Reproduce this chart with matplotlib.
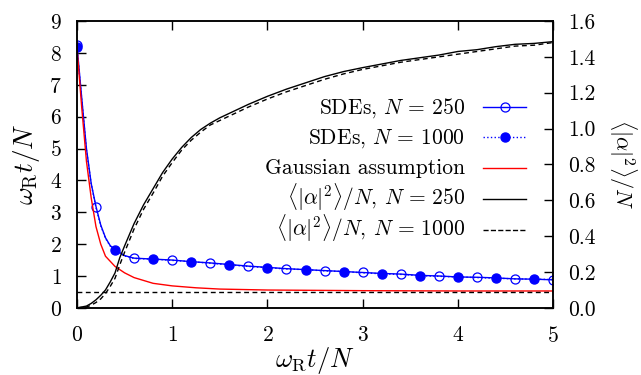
import matplotlib
matplotlib.use("Agg")
import matplotlib.pyplot as plt
from matplotlib.lines import Line2D

plt.rcParams["font.family"] = "serif"
plt.rcParams["font.serif"] = ["cmr10", "DejaVu Serif"]
plt.rcParams["mathtext.fontset"] = "cm"
plt.rcParams["axes.formatter.use_mathtext"] = True
plt.rcParams["font.size"] = 15.5

# SDE results (left axis)
t_sde = [0, 0.05, 0.1, 0.15, 0.2, 0.25, 0.3, 0.35, 0.4, 0.5, 0.6, 0.8, 1.0, 1.2, 1.4,
         1.6, 1.8, 2.0, 2.2, 2.4, 2.6, 2.8, 3.0, 3.2, 3.4, 3.6, 3.8, 4.0, 4.2, 4.4,
         4.6, 4.8, 5.0]
sde_250 = [8.25, 6.6, 5.0, 3.9, 3.18, 2.6, 2.2, 1.95, 1.83, 1.64, 1.56, 1.53, 1.50, 1.45, 1.41,
           1.36, 1.31, 1.27, 1.23, 1.20, 1.17, 1.14, 1.11, 1.08, 1.06, 1.02, 1.00, 0.97, 0.96, 0.94,
           0.91, 0.90, 0.88]
sde_1000 = [8.18, 6.55, 4.95, 3.88, 3.15, 2.58, 2.18, 1.94, 1.82, 1.63, 1.55, 1.53, 1.49, 1.45, 1.40,
            1.35, 1.30, 1.26, 1.22, 1.20, 1.16, 1.14, 1.10, 1.07, 1.05, 1.01, 0.99, 0.97, 0.95, 0.93,
            0.91, 0.90, 0.89]
marks_250 = [0, 4, 10, 12, 14, 16, 18, 20, 22, 24, 26, 28, 30, 32]
marks_1000 = [0, 8, 11, 13, 15, 17, 19, 21, 23, 25, 27, 29, 31]

# Gaussian assumption (left axis)
t_gauss = [0, 0.05, 0.1, 0.15, 0.2, 0.25, 0.3, 0.4, 0.5, 0.6, 0.8, 1.0, 1.25, 1.5,
           2.0, 2.5, 3.0, 4.0, 5.0]
gauss = [8.2, 6.3, 4.6, 3.45, 2.55, 2.0, 1.62, 1.3, 1.1, 0.95, 0.77, 0.69, 0.63, 0.59,
         0.56, 0.55, 0.54, 0.53, 0.53]
gauss_limit = 0.5

# <|alpha|^2>/N (right axis)
t_occ = [0, 0.1, 0.15, 0.2, 0.25, 0.3, 0.35, 0.4, 0.45, 0.5, 0.6, 0.7, 0.8, 0.9, 1.0,
         1.1, 1.2, 1.3, 1.4, 1.5, 1.6, 1.8, 2.0, 2.2, 2.4, 2.6, 2.8, 3.0, 3.2, 3.4,
         3.6, 3.8, 4.0, 4.2, 4.4, 4.6, 4.8, 5.0]
occ_250 = [0, 0.01, 0.025, 0.045, 0.07, 0.10, 0.145, 0.195, 0.28, 0.345, 0.47, 0.575, 0.665, 0.755, 0.83,
           0.895, 0.95, 0.995, 1.03, 1.06, 1.085, 1.135, 1.18, 1.22, 1.255, 1.29, 1.318, 1.34, 1.36, 1.38,
           1.395, 1.41, 1.43, 1.44, 1.457, 1.47, 1.475, 1.485]
occ_1000 = [0, 0.005, 0.015, 0.03, 0.05, 0.08, 0.12, 0.165, 0.24, 0.31, 0.44, 0.55, 0.64, 0.735, 0.81,
            0.88, 0.935, 0.98, 1.02, 1.045, 1.07, 1.12, 1.165, 1.205, 1.24, 1.275, 1.305, 1.33, 1.35, 1.37,
            1.385, 1.40, 1.415, 1.43, 1.445, 1.46, 1.465, 1.48]

labels = [r"SDEs, $N\,=\,250$",
          r"SDEs, $N\,=\,1000$",
          "Gaussian assumption",
          r"$\langle|\alpha|^2\rangle/N$, $N\,=\,250$",
          r"$\langle|\alpha|^2\rangle/N$, $N\,=\,1000$"]

fig, ax = plt.subplots(figsize=(6.41, 3.75), dpi=100)
fig.subplots_adjust(left=0.120, right=0.863, top=0.944, bottom=0.179)
ax2 = ax.twinx()

dash = (0, (3.5, 2.5))
l1, = ax.plot(t_sde, sde_250, color="blue", lw=1.0, marker="o", mfc="none", mec="blue",
              ms=6.5, mew=0.9, markevery=marks_250)
l2, = ax.plot(t_sde, sde_1000, color="blue", lw=1.0, ls=":", marker="o", mfc="blue", mec="blue",
              ms=6.5, markevery=marks_1000)
l3, = ax.plot(t_gauss, gauss, color="red", lw=1.0)
ax.axhline(gauss_limit, color="black", lw=1.0, ls=dash)

l4, = ax2.plot(t_occ, occ_250, color="black", lw=1.0)
l5, = ax2.plot(t_occ, occ_1000, color="black", lw=1.0, ls=dash)

ax.set_xlim(0, 5)
ax.set_ylim(0, 9)
ax2.set_ylim(0, 1.6)
ax.set_xticks([0, 1, 2, 3, 4, 5])
ax.set_yticks(range(10))
ax2.set_yticks([0, 0.2, 0.4, 0.6, 0.8, 1.0, 1.2, 1.4, 1.6])
ax2.set_yticklabels(["0.0", "0.2", "0.4", "0.6", "0.8", "1.0", "1.2", "1.4", "1.6"])

ax.tick_params(axis="x", direction="in", length=6.5, width=1.0, top=True, pad=13)
ax.tick_params(axis="y", direction="in", length=6.5, width=1.0, right=False, pad=11)
ax2.tick_params(axis="y", direction="in", length=6.5, width=1.0, pad=11)
for a in (ax, ax2):
    for s in a.spines.values():
        s.set_linewidth(1.1)

ax.set_xlabel(r"$\omega_{\rm R} t/N$", fontsize=19, labelpad=-1)
ax.set_ylabel(r"$\omega_{\rm R} t/N$", fontsize=19.5, labelpad=5)
ax2.set_ylabel(r"$\langle|\alpha|^2\rangle/N$", fontsize=16, rotation=-90, va="bottom",
               labelpad=8)

# legend: labels right-aligned, key to the right (rows evenly spaced)
row_y = [0.700, 0.596, 0.488, 0.380, 0.272]
for line, lab, y in zip([l1, l2, l3, l4, l5], labels, row_y):
    ax2.text(0.815, y - 0.022, lab, transform=ax2.transAxes, ha="right", va="baseline",
             fontsize=15.5)
    key = Line2D([0.853, 0.898, 0.943], [y, y, y], transform=ax2.transAxes,
                 color=line.get_color(), lw=line.get_linewidth(), ls=line.get_linestyle(),
                 marker=line.get_marker(), mfc=line.get_markerfacecolor(),
                 mec=line.get_markeredgecolor(), ms=line.get_markersize(),
                 mew=line.get_markeredgewidth(), markevery=[1])
    ax2.add_line(key)

fig.savefig("out.png", dpi=100)
